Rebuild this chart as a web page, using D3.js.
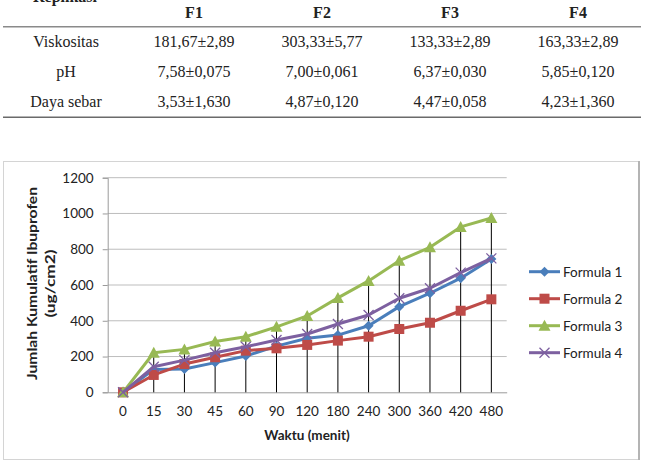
<!DOCTYPE html>
<html><head><meta charset="utf-8">
<script src="https://cdn.jsdelivr.net/npm/d3@7"></script>
<style>html,body{margin:0;padding:0;background:#fff;}svg{display:block;}</style>
</head><body>
<script>
// ---- table data ----
const tableCols = ["F1", "F2", "F3", "F4"];
const tableRows = ["Viskositas", "pH", "Daya sebar"];
const viskositas = ["181,67±2,89", "303,33±5,77", "133,33±2,89", "163,33±2,89"];
const pH = ["7,58±0,075", "7,00±0,061", "6,37±0,030", "5,85±0,120"];
const dayaSebar = ["3,53±1,630", "4,87±0,120", "4,47±0,058", "4,23±1,360"];

// ---- chart data ----
const categories = ["0","15","30","45","60","90","120","180","240","300","360","420","480"];
const formula1 = [0, 128, 130, 166, 203, 258, 302, 320, 372, 479, 554, 638, 745];
const formula2 = [0, 97, 158, 196, 233, 246, 265, 289, 311, 354, 389, 456, 520];
const formula3 = [0, 221, 240, 284, 311, 366, 427, 528, 623, 736, 811, 925, 975];
const formula4 = [0, 143, 180, 221, 255, 292, 326, 382, 432, 526, 582, 669, 749];
const seriesNames = ["Formula 1", "Formula 2", "Formula 3", "Formula 4"];
const yTicks = [0, 200, 400, 600, 800, 1000, 1200];

const W = 647, H = 462;
const svg = d3.select("body").append("svg").attr("width", W).attr("height", H);

// ---- table ----
const serif = "'Liberation Serif','Times New Roman',serif";
const colX = d3.scalePoint().domain(["label"].concat(tableCols)).range([66, 578]);
svg.append("text").attr("x", 65).attr("y", 2).attr("text-anchor", "middle")
  .attr("font-family", serif).attr("font-size", 16).attr("font-weight", "bold").attr("fill", "#222").text("Replikasi");
tableCols.forEach(c => svg.append("text").attr("x", colX(c)).attr("y", 18).attr("text-anchor", "middle")
  .attr("font-family", serif).attr("font-size", 16).attr("font-weight", "bold").attr("fill", "#222").text(c));
svg.append("line").attr("x1", 3).attr("x2", 641).attr("y1", 26.7).attr("y2", 26.7).attr("stroke", "#8a8a8a").attr("stroke-width", 1.5);
svg.append("line").attr("x1", 3).attr("x2", 641).attr("y1", 117.3).attr("y2", 117.3).attr("stroke", "#6a6a6a").attr("stroke-width", 1.5);
const rowVals = [viskositas, pH, dayaSebar];
const rowY = d3.scalePoint().domain(tableRows).range([47, 107]);
tableRows.forEach((r, i) => {
  svg.append("text").attr("x", colX("label")).attr("y", rowY(r)).attr("text-anchor", "middle")
    .attr("font-family", serif).attr("font-size", 16).attr("fill", "#222").text(r);
  rowVals[i].forEach((v, j) => svg.append("text").attr("x", colX(tableCols[j])).attr("y", rowY(r)).attr("text-anchor", "middle")
    .attr("font-family", serif).attr("font-size", 16).attr("fill", "#222").text(v));
});

// ---- chart frame ----
svg.append("rect").attr("x", 3.5).attr("y", 161.5).attr("width", 635).attr("height", 298).attr("fill", "#fff").attr("stroke", "#d4d4d4");
svg.append("line").attr("x1", 639).attr("x2", 639).attr("y1", 161).attr("y2", 460).attr("stroke", "#b4b4b4").attr("stroke-width", 2);

const sans = "Lato, 'Open Sans', sans-serif";
const x = d3.scaleBand().domain(categories).range([107.7, 506.7]).padding(0);
const cx = c => x(c) + x.bandwidth() / 2;
const y = d3.scaleLinear().domain([0, 1200]).range([392.3, 177.7]);

// gridlines
svg.append("g").selectAll("line").data(yTicks.slice(1)).join("line")
  .attr("x1", 107.7).attr("x2", 506.7).attr("y1", d => y(d)).attr("y2", d => y(d))
  .attr("stroke", "#bdbdbd").attr("stroke-width", 1);

// y axis
const yAxis = d3.axisLeft(y).tickValues(yTicks).tickSize(5).tickPadding(9).tickFormat(d3.format("d"));
const gy = svg.append("g").attr("transform", "translate(107.7,0)").call(yAxis);
gy.select(".domain").attr("stroke", "#9a9a9a");
gy.selectAll(".tick line").attr("stroke", "#9a9a9a");
gy.selectAll("text").attr("font-family", sans).attr("font-size", 13.5).attr("fill", "#222");

// x axis
const xAxis = d3.axisBottom(x).tickSize(0).tickPadding(14);
const gx = svg.append("g").attr("transform", "translate(0,392.3)").call(xAxis);
gx.select(".domain").attr("stroke", "#9a9a9a");
gx.selectAll("text").attr("font-family", sans).attr("font-size", 13.5).attr("fill", "#222");

// error-bar-like vertical lines
svg.append("g").selectAll("line").data(categories.map((c, i) => ({c, v: formula3[i]})).filter(d => d.v > 0)).join("line")
  .attr("x1", d => cx(d.c)).attr("x2", d => cx(d.c)).attr("y1", y(0)).attr("y2", d => y(d.v) - 4)
  .attr("stroke", "#000").attr("stroke-width", 1);

// series
const allSeries = [formula1, formula2, formula3, formula4];
const colors = ["#4a7ebb", "#be4b48", "#98b954", "#7d60a0"];
const line = d3.line().x((d, i) => cx(categories[i])).y(d => y(d));
function marker(g, k, px, py, col, scale) {
  const s = scale || 1;
  if (k === 0) g.append("path").attr("d", `M${px},${py-5*s}L${px+5*s},${py}L${px},${py+5*s}L${px-5*s},${py}Z`).attr("fill", col);
  if (k === 1) g.append("rect").attr("x", px-5*s).attr("y", py-5*s).attr("width", 10*s).attr("height", 10*s).attr("fill", col);
  if (k === 2) g.append("path").attr("d", `M${px},${py-6*s}L${px+6*s},${py+5*s}L${px-6*s},${py+5*s}Z`).attr("fill", col);
  if (k === 3) g.append("path").attr("d", `M${px-5*s},${py-5*s}L${px+5*s},${py+5*s}M${px-5*s},${py+5*s}L${px+5*s},${py-5*s}`).attr("stroke", col).attr("stroke-width", 1.3).attr("fill", "none");
}
allSeries.forEach((data, k) => {
  const g = svg.append("g");
  g.append("path").datum(data).attr("d", line).attr("fill", "none").attr("stroke", colors[k]).attr("stroke-width", 3).attr("stroke-linejoin", "round");
  data.forEach((v, i) => marker(g, k, cx(categories[i]), y(v), colors[k]));
});

// legend
const legY = d3.scalePoint().domain(seriesNames).range([271.7, 352.7]);
seriesNames.forEach((n, k) => {
  const g = svg.append("g");
  g.append("line").attr("x1", 529).attr("x2", 560).attr("y1", legY(n)).attr("y2", legY(n)).attr("stroke", colors[k]).attr("stroke-width", 3);
  marker(g, k, 544.5, legY(n), colors[k]);
  g.append("text").attr("x", 563).attr("y", legY(n) + 4.8).attr("font-family", sans).attr("font-size", 13.5).attr("fill", "#222").text(n);
});

// axis titles
svg.append("text").attr("x", 307).attr("y", 440).attr("text-anchor", "middle").attr("font-family", sans)
  .attr("font-size", 13.5).attr("font-weight", "bold").attr("fill", "#222").text("Waktu (menit)");
const yt = svg.append("text").attr("transform", "translate(37,283.5) rotate(-90)").attr("text-anchor", "middle")
  .attr("font-family", sans).attr("font-size", 13.5).attr("font-weight", "bold").attr("fill", "#222");
yt.append("tspan").attr("x", 0).attr("y", 0).attr("textLength", 193).attr("lengthAdjust", "spacingAndGlyphs").text("Jumlah Kumulatif Ibuprofen");
yt.append("tspan").attr("x", 0).attr("y", 18).attr("textLength", 68).attr("lengthAdjust", "spacingAndGlyphs").text("(ug/cm2)");
</script>
</body></html>
